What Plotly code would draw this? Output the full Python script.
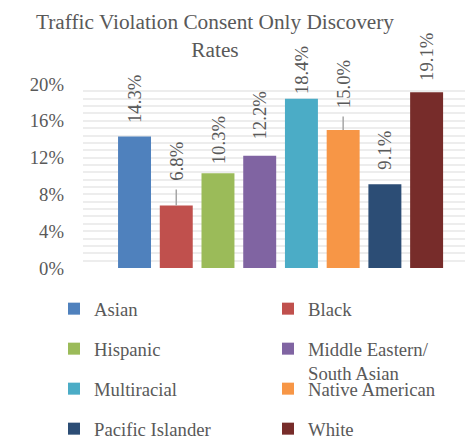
import plotly.graph_objects as go

# ---- data ----
races = ["Asian", "Black", "Hispanic", "Middle Eastern/ South Asian",
         "Multiracial", "Native American", "Pacific Islander", "White"]
legend_names = ["Asian", "Black", "Hispanic", "Middle Eastern/<br>South Asian",
                "Multiracial", "Native American", "Pacific Islander", "White"]
rates = [0.143, 0.068, 0.103, 0.122, 0.184, 0.150, 0.091, 0.191]
rate_labels = ["14.3%", "6.8%", "10.3%", "12.2%", "18.4%", "15.0%", "9.1%", "19.1%"]
y_ticks = [0, 0.04, 0.08, 0.12, 0.16, 0.20]
y_tick_text = ["0%", "4%", "8%", "12%", "16%", "20%"]

# ---- style ----
colors = ["#4F81BD", "#C0504D", "#9BBB59", "#8064A2",
          "#4BACC6", "#F79646", "#2C4D75", "#772C2A"]
FONT = "Liberation Serif"
GRAY = "#595959"
label_gap = [14, 0, 10, 17, 6, 0, 16, 12]       # px between bar top and label
leader = [0, 44, 0, 0, 0, 46, 0, 0]            # px leader-line offsets (0 = none)
# legend grid: 2 columns x 4 rows (pixel positions of the swatches)
leg_col_x = [54, 268]
leg_row_y = [309, 349, 389, 429]

fig = go.Figure()
legs = {}
for i, r in enumerate(races):
    lname = "legend" if i == 0 else f"legend{i + 1}"
    fig.add_trace(go.Bar(
        x=[r], y=[rates[i]], name=legend_names[i],
        marker=dict(color=colors[i], line=dict(width=0)),
        width=0.79, legend=lname, hoverinfo="skip",
    ))
    col, row = i % 2, i // 2
    legs[lname] = dict(
        orientation="h", xref="container", yref="container",
        x=leg_col_x[col] / 466, xanchor="left",
        y=1 - (leg_row_y[row] - 19) / 438, yanchor="top",
        font=dict(family=FONT, size=18.7, color=GRAY),
        bgcolor="rgba(0,0,0,0)", itemclick=False, valign="top",
    )

for i, r in enumerate(races):
    if leader[i]:
        fig.add_annotation(
            x=r, y=rates[i], text=rate_labels[i], textangle=-90,
            showarrow=True, ax=0, ay=-leader[i], arrowhead=0,
            arrowwidth=1.5, arrowcolor="#A6A6A6", standoff=0, startstandoff=7,
            font=dict(family=FONT, size=18.7, color=GRAY),
        )
    else:
        fig.add_annotation(
            x=r, y=rates[i], text=rate_labels[i], textangle=-90,
            showarrow=False, yanchor="bottom", yshift=label_gap[i] - 3,
            font=dict(family=FONT, size=18.7, color=GRAY),
        )

fig.update_layout(
    width=466, height=438,
    margin=dict(l=83, r=1, t=84, b=170),
    paper_bgcolor="white", plot_bgcolor="white",
    font=dict(family=FONT, color=GRAY),
    barmode="overlay",
    showlegend=True,
    title=dict(text="Traffic Violation Consent Only Discovery<br>Rates",
               x=215 / 466, xanchor="center", xref="container",
               y=1 - 29 / 438, yanchor="top", yref="container",
               font=dict(family=FONT, size=21.3, color=GRAY)),
    xaxis=dict(type="category", categoryorder="array", categoryarray=races,
               range=[-1.235, 7.92], showticklabels=False, showgrid=False,
               zeroline=False, showline=False, ticks=""),
    yaxis=dict(range=[0, 0.2], tickvals=y_ticks, ticktext=y_tick_text,
               showgrid=True, gridcolor="#EDEDED", gridwidth=1.5,
               minor=dict(dtick=0.008, tick0=0, showgrid=True,
                          gridcolor="#EDEDED", gridwidth=1.5),
               zeroline=False, showline=False, ticks="",
               ticklabelstandoff=18,
               tickfont=dict(family=FONT, size=18.7, color=GRAY)),
    **legs,
)

fig.write_html("out.html")
